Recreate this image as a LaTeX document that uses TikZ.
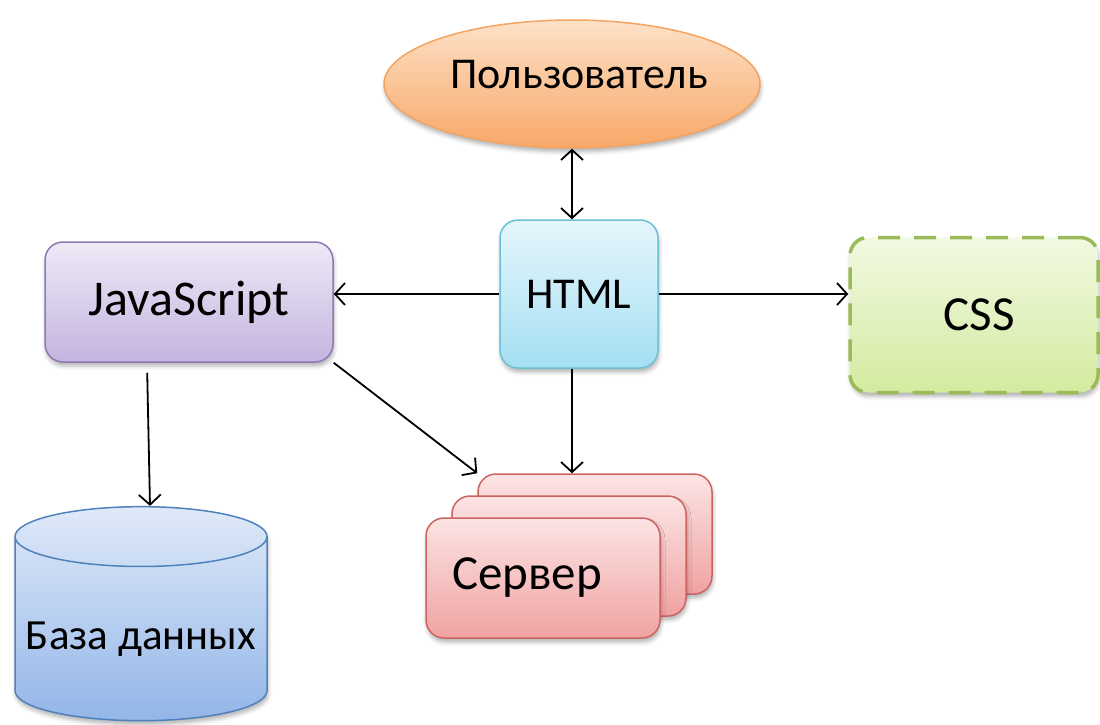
\documentclass[tikz,border=0pt]{standalone}
\usepackage{fontspec}
\setmainfont{Carlito}
\usetikzlibrary{arrows.meta,shapes.geometric,shadows.blur}

\definecolor{userline}{HTML}{F4A462}
\definecolor{usertop}{HTML}{FDE1C8}
\definecolor{userbot}{HTML}{F8A868}
\definecolor{htmlline}{HTML}{6CC0D6}
\definecolor{htmltop}{HTML}{E6F6FC}
\definecolor{htmlbot}{HTML}{A4DFF2}
\definecolor{jsline}{HTML}{8F78B5}
\definecolor{jstop}{HTML}{EEE9F6}
\definecolor{jsbot}{HTML}{C4B4DF}
\definecolor{cssline}{HTML}{9BBB59}
\definecolor{csstop}{HTML}{F2F9E2}
\definecolor{cssbot}{HTML}{D3EBA0}
\definecolor{srvline}{HTML}{CC6462}
\definecolor{srvtop}{HTML}{FCE4E4}
\definecolor{srvbot}{HTML}{F0A2A2}
\definecolor{dbline}{HTML}{4F81BD}
\definecolor{dbtop}{HTML}{DFE9F8}
\definecolor{dbbot}{HTML}{93B6E8}

\tikzset{
  shade/.style={blur shadow={shadow xshift=1pt, shadow yshift=-4pt,
      shadow blur radius=4pt, shadow opacity=30}},
  box/.style={shade, rounded corners=18pt, line width=1.5pt, inner sep=0pt,
    font=\fontsize{44}{50}\selectfont},
  userell/.style={shade, ellipse, draw=userline, top color=usertop,
    bottom color=userbot, line width=1.5pt, minimum width=376pt,
    minimum height=128pt, inner sep=0pt, font=\fontsize{44}{50}\selectfont},
  htmlbox/.style={box, draw=htmlline, top color=htmltop, bottom color=htmlbot,
    minimum width=158pt, minimum height=148pt},
  jsbox/.style={box, draw=jsline, top color=jstop, bottom color=jsbot,
    minimum width=288pt, minimum height=120pt, font=\fontsize{50}{56}\selectfont},
  cssbox/.style={box, draw=cssline, top color=csstop, bottom color=cssbot,
    line width=3.5pt, dash pattern=on 22pt off 14pt,
    minimum width=248pt, minimum height=155pt, font=\fontsize{49}{54}\selectfont},
  srvbox/.style={box, draw=srvline, top color=srvtop, bottom color=srvbot,
    minimum width=234pt, minimum height=120pt, font=\fontsize{49}{54}\selectfont},
  dbcyl/.style={shade, cylinder, shape border rotate=90, aspect=0.26,
    draw=dbline, top color=dbtop, bottom color=dbbot, line width=1.5pt,
    minimum width=252pt, minimum height=214pt, inner sep=0pt,
    font=\fontsize{43}{50}\selectfont},
  link/.style={line width=1.8pt},
}

\begin{document}
\begin{tikzpicture}[x=1pt, y=-1pt, >={Straight Barb[length=10pt,width=22pt]}]

  \useasboundingbox (0,0) rectangle (1100,725);

  % Define nodes
  \node[userell] (user) at (572,84)  {\raisebox{19pt}{\makebox[240pt]{\kern14pt Пользователь}}};
  \node[htmlbox] (html) at (579,294) {HTML};
  \node[jsbox]   (js)   at (189,302) {JavaScript};
  \node[cssbox]  (css)  at (974,315) {\kern10pt CSS};
  \node[srvbox]  (srv3) at (595,534) {};
  \node[srvbox]  (srv2) at (569,556) {};
  \node[srvbox]  (srv1) at (543,578) {Сервер\kern32pt};
  \node[dbcyl]   (db)   at (141,629) {\raisebox{-48pt}{База данных}};

  % Connect the nodes
  \draw[link, <->] (user.south) -- (user.south |- html.north);
  \draw[link, ->] (html.west) -- (html.west -| js.east);
  \draw[link, ->] (html.east) -- (html.east -| css.west);
  \draw[link, ->] (user.south |- html.south) -- (user.south |- srv3.north);
  \draw[link, ->] (js.south east) -- (srv3.north west);
  \draw[link, ->, shorten <=10pt] ([xshift=-42pt]js.south) -- ([xshift=9pt]db.north);

\end{tikzpicture}
\end{document}
